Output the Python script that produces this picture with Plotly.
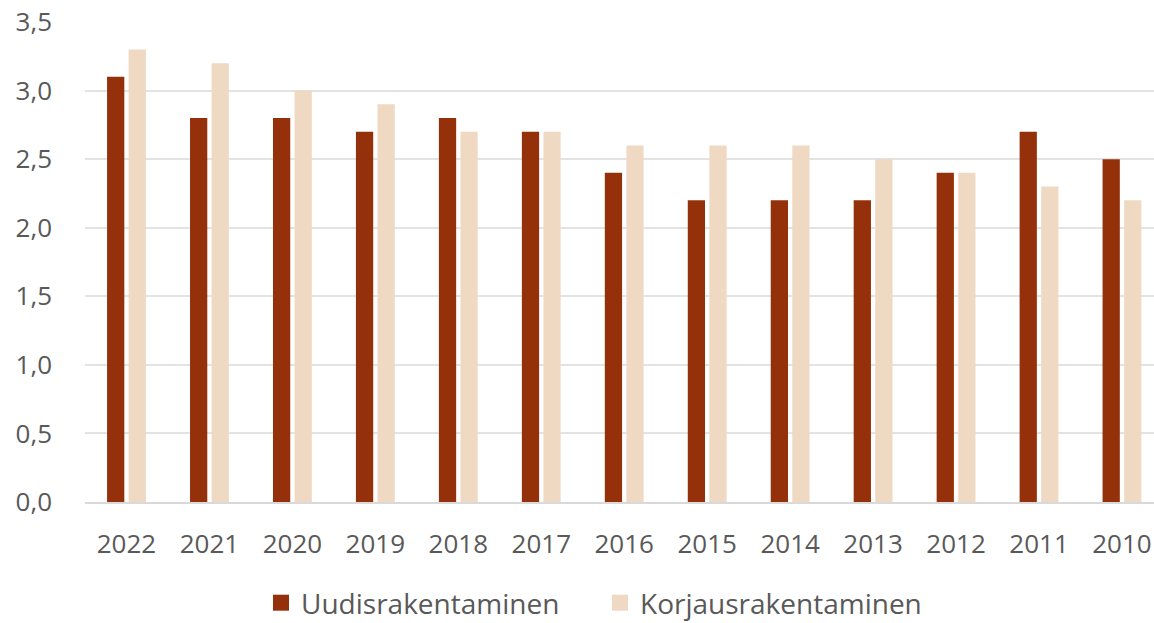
import plotly.graph_objects as go

years = ["2022", "2021", "2020", "2019", "2018", "2017", "2016", "2015", "2014", "2013", "2012", "2011", "2010"]
uudis = [3.1, 2.8, 2.8, 2.7, 2.8, 2.7, 2.4, 2.2, 2.2, 2.2, 2.4, 2.7, 2.5]
korjaus = [3.3, 3.2, 3.0, 2.9, 2.7, 2.7, 2.6, 2.6, 2.6, 2.5, 2.4, 2.3, 2.2]
yticks = [0, 0.5, 1.0, 1.5, 2.0, 2.5, 3.0, 3.5]
ytick_labels = ["0,0", "0,5", "1,0", "1,5", "2,0", "2,5", "3,0", "3,5"]
names = ["Uudisrakentaminen", "Korjausrakentaminen"]
colors = ["#94300A", "#EFD9C3"]

font = "Open Sans, sans-serif"
fig = go.Figure()
for name, vals, col in zip(names, [uudis, korjaus], colors):
    fig.add_trace(go.Bar(x=years, y=vals, name=name, marker_color=col,
                         marker_line_width=0, showlegend=False))
for name, col in zip(names, colors):
    fig.add_trace(go.Scatter(x=[None], y=[None], mode="markers", name=name,
                             marker=dict(symbol="square", size=18, color=col)))

fig.update_layout(
    width=1154, height=623,
    margin=dict(l=85, r=0, t=22, b=121),
    paper_bgcolor="white", plot_bgcolor="white",
    barmode="group", bargap=0.48, bargroupgap=0.2,
    font=dict(family=font, color="#595959", size=26),
    legend=dict(orientation="h", x=261 / 1154, xref="container", xanchor="left",
                y=1 - 603 / 623, yref="container", yanchor="middle",
                font=dict(size=28, color="#595959"), itemwidth=30, tracegroupgap=0,
                entrywidth=294, entrywidthmode="pixels"),
    showlegend=True,
)
fig.update_xaxes(type="category", range=[-0.5, 12.386], showgrid=False, automargin=False,
                 showline=True, linecolor="#D9D9D9", linewidth=2,
                 ticks="", ticklabelstandoff=18, tickfont=dict(size=26, color="#595959"))
fig.update_yaxes(range=[0, 3.5], tickvals=yticks, ticktext=ytick_labels, automargin=False,
                 showgrid=True, gridcolor="#E3E3E3", gridwidth=2, zeroline=False,
                 ticks="", ticklabelstandoff=32, tickfont=dict(size=26, color="#595959"))
fig.write_html("out.html", config={"displayModeBar": False},
               post_script="document.body.style.margin='0';document.body.style.overflow='hidden';")
